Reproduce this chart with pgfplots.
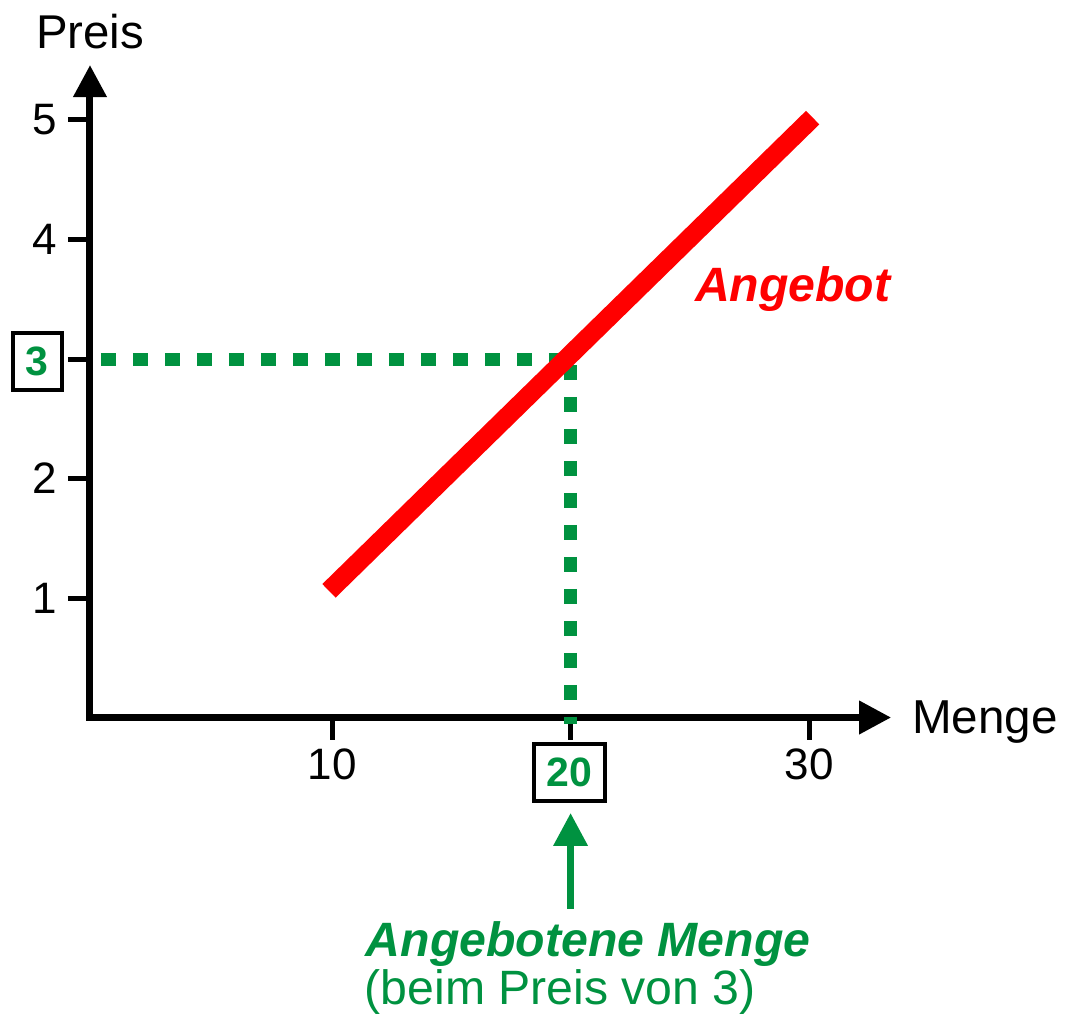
\documentclass[border=0pt]{standalone}
\usepackage{pgfplots}
\pgfplotsset{compat=1.18}
\usepackage{fontspec}
\setmainfont{Liberation Sans}
\usetikzlibrary{arrows.meta}
\definecolor{mygreen}{RGB}{0,146,64}
\definecolor{myred}{RGB}{255,0,0}
\begin{document}
\begin{tikzpicture}
\begin{axis}[
  x=11.925pt, y=59.75pt,
  xmin=-0.15, xmax=33.44, ymin=0, ymax=5.46,
  axis lines=left,
  clip=false,
  axis line style={line width=3.5pt, line cap=rect, -{Triangle[length=16pt,width=16pt]}},
  xtick={10,20,30}, xticklabels={10,{},30},
  ytick={1,2,3,4,5}, yticklabels={1,2,{},4,5},
  tick align=outside,
  major tick length=11pt,
  tick style={line width=2.5pt, black},
  /pgf/number format/assume math mode=true,
  ticklabel style={font=\fontsize{22}{26}\selectfont},
  yticklabel style={xshift=-2pt},
  xticklabel style={yshift=-1pt},
]
% dashed guides
\addplot[mygreen, line width=6.5pt, dash pattern=on 7.75pt off 8.25pt] coordinates {(0.31,3) (20,3)};
\addplot[mygreen, line width=6.5pt, dash pattern=on 7.75pt off 8.25pt] coordinates {(20,2.95) (20,-0.055)};
% supply line
\addplot[myred, line width=9.5pt] coordinates {(9.87,1.06) (30.15,5.02)};

% boxed values
\node[draw, line width=2pt, minimum width=24.5pt, minimum height=28.5pt, inner sep=0pt,
  text=mygreen, font=\fontsize{20.5}{24}\selectfont\bfseries] at (axis cs:-2.37,2.98) {3};
\node[draw, line width=2pt, minimum width=35.5pt, minimum height=28.5pt, inner sep=0pt,
  text=mygreen, font=\fontsize{20.5}{24}\selectfont\bfseries] at (axis cs:19.96,-0.46) {20};

% arrow
\draw[mygreen, line width=3.5pt, -{Triangle[length=16.5pt,width=16.5pt]}] (axis cs:20,-1.602) -- (axis cs:20,-0.799);

% labels
\node[anchor=base west, inner sep=0pt, text=mygreen, font=\fontsize{24.1}{28}\selectfont\bfseries\itshape] at (axis cs:11.4,-2.004) {Angebotene Menge};
\node[anchor=base west, inner sep=0pt, text=mygreen, font=\fontsize{24.1}{28}\selectfont] at (axis cs:11.35,-2.40) {(beim Preis von 3)};
\node[anchor=base west, inner sep=0pt, text=myred, font=\fontsize{24.1}{28}\selectfont\bfseries\itshape] at (axis cs:25.2,3.477) {Angebot};
\node[anchor=base, inner sep=0pt, font=\fontsize{23.7}{28}\selectfont] at (axis cs:-0.15,5.60) {Preis};
\node[anchor=base west, inner sep=0pt, font=\fontsize{23.8}{28}\selectfont] at (axis cs:34.3,-0.13) {Menge};
\coordinate (O) at (axis cs:-0.15,0);
\end{axis}
\useasboundingbox ([xshift=-45pt,yshift=-150.25pt]O) rectangle ([xshift=487.5pt,yshift=358.75pt]O);
\end{tikzpicture}
\end{document}
